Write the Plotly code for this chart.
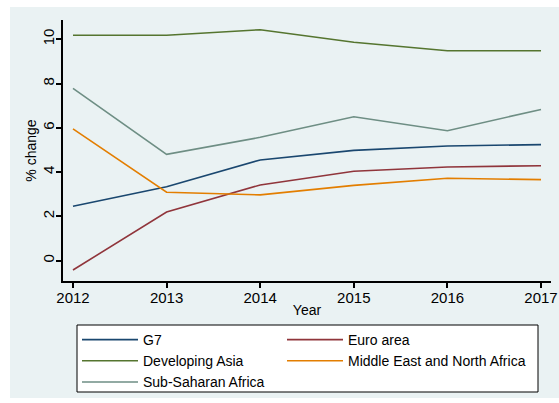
import plotly.graph_objects as go

years = [2012, 2013, 2014, 2015, 2016, 2017]
g7 = [2.46, 3.34, 4.55, 4.98, 5.18, 5.24]
euro_area = [-0.42, 2.20, 3.42, 4.04, 4.23, 4.29]
developing_asia = [10.18, 10.18, 10.43, 9.86, 9.48, 9.48]
mena = [5.95, 3.09, 2.97, 3.40, 3.72, 3.66]
ssa = [7.78, 4.80, 5.57, 6.50, 5.87, 6.83]

series_names = ["G7", "Euro area", "Developing Asia", "Middle East and North Africa", "Sub-Saharan Africa"]
series_values = [g7, euro_area, developing_asia, mena, ssa]
series_colors = ["#1a476f", "#90353b", "#55752f", "#e37e00", "#6e8e84"]
legend_column = ["legend", "legend2", "legend", "legend2", "legend"]
y_ticks = [0, 2, 4, 6, 8, 10]
x_ticks = years

W, H = 559, 403
L, T = 63, 20
PR, PB = 551, 281
R, B = W - PR, H - PB
pw = W - L - R
ph = H - T - B

def px_x(x):
    return (x - L) / pw

def px_y(y):
    return (PB - y) / ph

FONT = "Liberation Sans, Arial, sans-serif"
BG = "#eaf2f3"

fig = go.Figure()
for name, vals, col, lg in zip(series_names, series_values, series_colors, legend_column):
    fig.add_trace(go.Scatter(x=years, y=vals, mode="lines", name=name,
                             legend=lg, line=dict(color=col, width=1.6)))

# outer Stata-style background
fig.add_shape(type="rect", xref="paper", yref="paper",
              x0=px_x(10), x1=px_x(570), y0=px_y(398), y1=px_y(7),
              fillcolor=BG, line=dict(width=0), layer="below")
# legend frame
fig.add_shape(type="rect", xref="paper", yref="paper",
              x0=px_x(77), x1=px_x(538), y0=px_y(392), y1=px_y(325),
              fillcolor="white", line=dict(width=1, color="#000"), layer="below")

leg_common = dict(orientation="v", yanchor="top", xanchor="left",
                  bgcolor="rgba(0,0,0,0)", borderwidth=0,
                  font=dict(size=14), tracegroupgap=0, itemwidth=56)

fig.update_layout(
    width=W, height=H,
    margin=dict(l=L, r=R, t=T, b=B, autoexpand=False),
    paper_bgcolor="white",
    plot_bgcolor="white",
    font=dict(family=FONT, size=14, color="#000"),
    showlegend=True,
    legend=dict(x=px_x(77), y=px_y(324), **leg_common),
    legend2=dict(x=px_x(282), y=px_y(324), **leg_common),
    xaxis=dict(range=[2012 - 10 / 93.7, 2017 + 10 / 93.7],
               tickvals=x_ticks, ticktext=[str(v) for v in x_ticks],
               showgrid=False, zeroline=False,
               showline=True, linecolor="#000", linewidth=1.5,
               ticks="outside", ticklen=5, tickcolor="#000", tickwidth=1.5,
               tickfont=dict(size=15), ticklabelstandoff=-3,
               title=dict(text="Year", font=dict(size=14), standoff=0)),
    yaxis=dict(range=[-(281 - 260.7) / 22.15, (260.7 - 20) / 22.15],
               tickvals=y_ticks, ticktext=[str(v) for v in y_ticks],
               tickangle=-90,
               showgrid=True, gridcolor=BG, gridwidth=1.5,
               zeroline=False,
               showline=True, linecolor="#000", linewidth=1.5,
               ticks="outside", ticklen=5, tickcolor="#000", tickwidth=1.5,
               tickfont=dict(size=15), ticklabelstandoff=-4,
               title=dict(text="% change", font=dict(size=14), standoff=0)),
)

fig.write_html("out.html",
               config={"displayModeBar": False},
               post_script="document.body.style.margin='0';document.body.style.overflow='hidden';")
